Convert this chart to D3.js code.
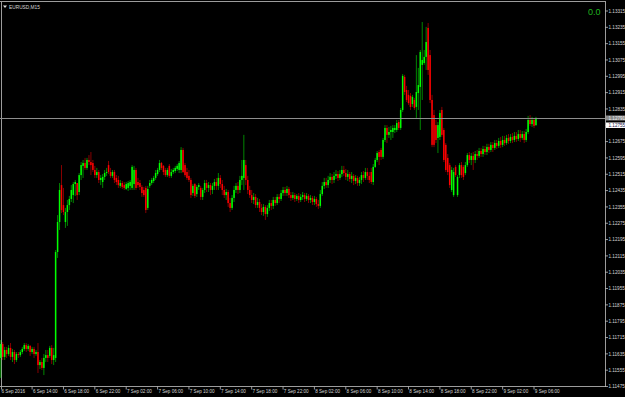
<!DOCTYPE html>
<html>
<head>
<meta charset="utf-8">
<script src="https://cdn.jsdelivr.net/npm/d3@7"></script>
<style>
  html, body { margin: 0; padding: 0; background: #000; }
  svg { display: block; }
</style>
</head>
<body>
<svg id="chart" width="625" height="397"></svg>
<script>
const symbol = 'EURUSD,M15';
const spread = '0.0';
// first M15 bar on the chart, bars follow every 15 minutes
const firstBar = '2016-09-06T10:00';

const open = [
  1.11615,1.11683,1.11620,1.11654,1.11634,1.11664,1.11620,1.11644,1.11605,1.11634,
  1.11629,1.11644,1.11659,1.11678,1.11659,1.11674,1.11644,1.11659,1.11634,1.11644,
  1.11580,1.11595,1.11566,1.11615,1.11629,1.11625,1.11664,1.11605,1.11615,1.12134,
  1.12281,1.12462,1.12364,1.12281,1.12330,1.12364,1.12394,1.12413,1.12467,1.12472,
  1.12428,1.12511,1.12556,1.12570,1.12546,1.12585,1.12575,1.12570,1.12536,1.12511,
  1.12526,1.12487,1.12477,1.12502,1.12521,1.12560,1.12526,1.12507,1.12526,1.12497,
  1.12487,1.12458,1.12472,1.12462,1.12443,1.12448,1.12458,1.12448,1.12467,1.12536,
  1.12477,1.12472,1.12453,1.12438,1.12448,1.12350,1.12458,1.12472,1.12482,1.12497,
  1.12516,1.12536,1.12570,1.12556,1.12536,1.12511,1.12556,1.12507,1.12526,1.12531,
  1.12541,1.12536,1.12536,1.12634,1.12560,1.12526,1.12507,1.12487,1.12423,1.12467,
  1.12418,1.12453,1.12448,1.12404,1.12438,1.12472,1.12448,1.12462,1.12438,1.12458,
  1.12477,1.12458,1.12497,1.12467,1.12438,1.12413,1.12428,1.12374,1.12350,1.12399,
  1.12438,1.12458,1.12438,1.12487,1.12497,1.12560,1.12487,1.12438,1.12413,1.12389,
  1.12404,1.12364,1.12379,1.12350,1.12330,1.12355,1.12320,1.12350,1.12374,1.12360,
  1.12389,1.12374,1.12404,1.12394,1.12423,1.12438,1.12423,1.12443,1.12413,1.12399,
  1.12413,1.12394,1.12409,1.12389,1.12404,1.12413,1.12394,1.12409,1.12389,1.12399,
  1.12379,1.12394,1.12369,1.12360,1.12418,1.12458,1.12477,1.12462,1.12487,1.12502,
  1.12487,1.12507,1.12516,1.12497,1.12516,1.12536,1.12521,1.12502,1.12516,1.12492,
  1.12507,1.12482,1.12497,1.12472,1.12487,1.12511,1.12497,1.12526,1.12507,1.12526,
  1.12477,1.12551,1.12585,1.12624,1.12634,1.12600,1.12683,1.12742,1.12708,1.12722,
  1.12722,1.12732,1.12732,1.12771,1.12742,1.12830,1.12992,1.12928,1.12904,1.12899,
  1.12859,1.12879,1.12845,1.12913,1.12943,1.13051,1.13060,1.13090,1.13232,1.13099,
  1.12879,1.12805,1.12756,1.12693,1.12698,1.12830,1.12732,1.12659,1.12595,1.12560,
  1.12438,1.12413,1.12551,1.12413,1.12511,1.12560,1.12551,1.12521,1.12560,1.12609,
  1.12585,1.12605,1.12585,1.12614,1.12605,1.12629,1.12614,1.12639,1.12624,1.12649,
  1.12634,1.12659,1.12644,1.12668,1.12654,1.12678,1.12659,1.12683,1.12668,1.12693,
  1.12678,1.12698,1.12683,1.12703,1.12688,1.12712,1.12693,1.12712,1.12683,1.12722,
  1.12781,1.12761,1.12781,1.12756
];
const high = [
  1.11703,1.11693,1.11669,1.11669,1.11678,1.11688,1.11659,1.11654,1.11644,1.11644,
  1.11654,1.11669,1.11688,1.11688,1.11683,1.11678,1.11669,1.11669,1.11654,1.11688,
  1.11605,1.11615,1.11634,1.11654,1.11654,1.11674,1.11678,1.11664,1.12144,1.12315,
  1.12472,1.12560,1.12448,1.12350,1.12389,1.12409,1.12462,1.12477,1.12487,1.12472,
  1.12521,1.12575,1.12585,1.12595,1.12595,1.12609,1.12624,1.12585,1.12556,1.12546,
  1.12536,1.12511,1.12516,1.12536,1.12546,1.12580,1.12546,1.12536,1.12536,1.12511,
  1.12507,1.12487,1.12482,1.12477,1.12477,1.12482,1.12487,1.12560,1.12556,1.12546,
  1.12497,1.12487,1.12462,1.12453,1.12458,1.12458,1.12487,1.12497,1.12507,1.12536,
  1.12546,1.12585,1.12575,1.12560,1.12546,1.12546,1.12565,1.12541,1.12546,1.12556,
  1.12565,1.12580,1.12648,1.12644,1.12570,1.12546,1.12536,1.12497,1.12467,1.12472,
  1.12462,1.12472,1.12458,1.12448,1.12487,1.12487,1.12477,1.12472,1.12472,1.12492,
  1.12497,1.12521,1.12511,1.12487,1.12458,1.12443,1.12438,1.12399,1.12413,1.12458,
  1.12472,1.12477,1.12507,1.12585,1.12708,1.12585,1.12507,1.12458,1.12438,1.12423,
  1.12418,1.12399,1.12394,1.12369,1.12369,1.12364,1.12364,1.12389,1.12389,1.12404,
  1.12404,1.12418,1.12418,1.12438,1.12453,1.12453,1.12458,1.12453,1.12428,1.12428,
  1.12423,1.12418,1.12423,1.12418,1.12428,1.12423,1.12423,1.12418,1.12413,1.12409,
  1.12409,1.12404,1.12389,1.12438,1.12477,1.12497,1.12497,1.12507,1.12521,1.12516,
  1.12526,1.12536,1.12531,1.12536,1.12556,1.12556,1.12541,1.12536,1.12526,1.12526,
  1.12516,1.12511,1.12507,1.12502,1.12526,1.12531,1.12546,1.12546,1.12526,1.12546,
  1.12565,1.12595,1.12629,1.12634,1.12644,1.12693,1.12756,1.12756,1.12747,1.12752,
  1.12756,1.12756,1.12781,1.12781,1.12840,1.13006,1.13002,1.12948,1.12928,1.12913,
  1.12904,1.12889,1.13099,1.13036,1.13124,1.13261,1.13124,1.13237,1.13256,1.13124,
  1.12904,1.12830,1.12781,1.12771,1.12830,1.12845,1.12742,1.12668,1.12614,1.12570,
  1.12551,1.12546,1.12560,1.12511,1.12570,1.12575,1.12560,1.12575,1.12619,1.12624,
  1.12619,1.12624,1.12629,1.12634,1.12644,1.12644,1.12654,1.12654,1.12664,1.12664,
  1.12673,1.12673,1.12683,1.12683,1.12693,1.12698,1.12703,1.12703,1.12708,1.12712,
  1.12712,1.12717,1.12722,1.12722,1.12732,1.12732,1.12727,1.12727,1.12737,1.12801,
  1.12805,1.12796,1.12791,1.12796
];
const low = [
  1.11517,1.11605,1.11605,1.11615,1.11625,1.11605,1.11595,1.11585,1.11595,1.11615,
  1.11620,1.11634,1.11649,1.11644,1.11649,1.11625,1.11634,1.11615,1.11625,1.11541,
  1.11561,1.11556,1.11531,1.11595,1.11595,1.11615,1.11585,1.11580,1.11595,1.12105,
  1.12242,1.12325,1.12315,1.12252,1.12262,1.12340,1.12379,1.12374,1.12409,1.12389,
  1.12413,1.12487,1.12497,1.12536,1.12536,1.12560,1.12511,1.12526,1.12497,1.12497,
  1.12472,1.12462,1.12448,1.12487,1.12507,1.12516,1.12497,1.12497,1.12472,1.12462,
  1.12448,1.12448,1.12443,1.12438,1.12438,1.12433,1.12438,1.12438,1.12438,1.12438,
  1.12448,1.12438,1.12404,1.12404,1.12325,1.12340,1.12448,1.12462,1.12472,1.12487,
  1.12507,1.12526,1.12536,1.12511,1.12502,1.12502,1.12497,1.12497,1.12516,1.12521,
  1.12531,1.12521,1.12521,1.12521,1.12502,1.12487,1.12477,1.12399,1.12409,1.12399,
  1.12404,1.12438,1.12389,1.12389,1.12423,1.12428,1.12428,1.12413,1.12418,1.12438,
  1.12438,1.12438,1.12448,1.12413,1.12399,1.12389,1.12355,1.12330,1.12340,1.12379,
  1.12423,1.12418,1.12423,1.12462,1.12438,1.12462,1.12418,1.12399,1.12374,1.12369,
  1.12350,1.12350,1.12330,1.12315,1.12311,1.12291,1.12306,1.12335,1.12340,1.12345,
  1.12360,1.12364,1.12374,1.12384,1.12409,1.12409,1.12409,1.12399,1.12384,1.12389,
  1.12379,1.12384,1.12374,1.12379,1.12389,1.12379,1.12384,1.12374,1.12374,1.12364,
  1.12364,1.12355,1.12345,1.12350,1.12409,1.12443,1.12448,1.12448,1.12472,1.12467,
  1.12472,1.12492,1.12482,1.12487,1.12502,1.12507,1.12487,1.12482,1.12477,1.12472,
  1.12462,1.12467,1.12458,1.12458,1.12467,1.12477,1.12487,1.12487,1.12472,1.12467,
  1.12462,1.12546,1.12575,1.12560,1.12585,1.12590,1.12673,1.12668,1.12693,1.12683,
  1.12693,1.12717,1.12722,1.12732,1.12732,1.12820,1.12904,1.12869,1.12855,1.12830,
  1.12845,1.12830,1.12791,1.12830,1.12732,1.12879,1.13051,1.13026,1.13002,1.12864,
  1.12648,1.12648,1.12668,1.12619,1.12683,1.12698,1.12575,1.12526,1.12511,1.12448,
  1.12428,1.12404,1.12502,1.12404,1.12497,1.12497,1.12487,1.12511,1.12551,1.12570,
  1.12560,1.12536,1.12570,1.12585,1.12595,1.12600,1.12600,1.12609,1.12609,1.12619,
  1.12624,1.12624,1.12634,1.12639,1.12644,1.12644,1.12648,1.12654,1.12659,1.12664,
  1.12668,1.12668,1.12673,1.12673,1.12678,1.12673,1.12683,1.12668,1.12673,1.12712,
  1.12752,1.12747,1.12742,1.12752
];
const close = [
  1.11683,1.11620,1.11654,1.11634,1.11664,1.11620,1.11644,1.11605,1.11634,1.11629,
  1.11644,1.11659,1.11678,1.11659,1.11674,1.11644,1.11659,1.11634,1.11644,1.11580,
  1.11595,1.11566,1.11615,1.11629,1.11615,1.11664,1.11605,1.11629,1.12134,1.12281,
  1.12438,1.12340,1.12330,1.12330,1.12364,1.12394,1.12438,1.12467,1.12477,1.12413,
  1.12511,1.12560,1.12570,1.12546,1.12585,1.12575,1.12560,1.12536,1.12511,1.12526,
  1.12487,1.12497,1.12502,1.12521,1.12526,1.12526,1.12507,1.12526,1.12487,1.12477,
  1.12462,1.12472,1.12453,1.12448,1.12467,1.12472,1.12477,1.12551,1.12536,1.12448,
  1.12462,1.12453,1.12423,1.12413,1.12340,1.12443,1.12472,1.12487,1.12497,1.12521,
  1.12536,1.12570,1.12546,1.12526,1.12511,1.12536,1.12507,1.12526,1.12536,1.12546,
  1.12556,1.12570,1.12634,1.12526,1.12511,1.12497,1.12487,1.12413,1.12458,1.12409,
  1.12453,1.12462,1.12404,1.12438,1.12472,1.12448,1.12462,1.12438,1.12458,1.12477,
  1.12458,1.12497,1.12467,1.12438,1.12413,1.12428,1.12374,1.12350,1.12399,1.12438,
  1.12458,1.12438,1.12487,1.12507,1.12585,1.12487,1.12438,1.12413,1.12389,1.12404,
  1.12364,1.12379,1.12350,1.12330,1.12355,1.12320,1.12350,1.12374,1.12360,1.12389,
  1.12374,1.12404,1.12394,1.12423,1.12438,1.12423,1.12443,1.12413,1.12399,1.12413,
  1.12394,1.12409,1.12389,1.12404,1.12413,1.12394,1.12409,1.12389,1.12399,1.12379,
  1.12394,1.12369,1.12360,1.12418,1.12458,1.12477,1.12462,1.12487,1.12502,1.12487,
  1.12507,1.12516,1.12497,1.12516,1.12536,1.12521,1.12502,1.12516,1.12492,1.12507,
  1.12482,1.12497,1.12472,1.12487,1.12511,1.12497,1.12526,1.12507,1.12487,1.12477,
  1.12551,1.12585,1.12619,1.12600,1.12600,1.12683,1.12742,1.12708,1.12722,1.12732,
  1.12742,1.12742,1.12766,1.12742,1.12830,1.12997,1.12918,1.12879,1.12864,1.12845,
  1.12894,1.12840,1.12918,1.12952,1.13114,1.13075,1.13090,1.13163,1.13026,1.12879,
  1.12659,1.12659,1.12683,1.12756,1.12815,1.12708,1.12585,1.12536,1.12526,1.12462,
  1.12536,1.12526,1.12511,1.12502,1.12560,1.12511,1.12502,1.12560,1.12609,1.12585,
  1.12605,1.12585,1.12614,1.12605,1.12629,1.12614,1.12639,1.12624,1.12649,1.12634,
  1.12659,1.12644,1.12668,1.12654,1.12678,1.12659,1.12683,1.12668,1.12693,1.12678,
  1.12698,1.12683,1.12703,1.12688,1.12712,1.12693,1.12712,1.12683,1.12722,1.12781,
  1.12761,1.12781,1.12752,1.12791
];

const priceTicks = [
  1.13315,1.13235,1.13155,1.13075,1.12995,1.12915,1.12835,1.12755,
  1.12675,1.12595,1.12515,1.12435,1.12355,1.12275,1.12195,1.12115,
  1.12035,1.11955,1.11875,1.11795,1.11715,1.11635,1.11555,1.11475
];
const timeTicks = [
  '2016-09-06T10:00','2016-09-06T14:00','2016-09-06T18:00','2016-09-06T22:00',
  '2016-09-07T02:00','2016-09-07T06:00','2016-09-07T10:00','2016-09-07T14:00',
  '2016-09-07T18:00','2016-09-07T22:00','2016-09-08T02:00','2016-09-08T06:00',
  '2016-09-08T10:00','2016-09-08T14:00','2016-09-08T18:00','2016-09-08T22:00',
  '2016-09-09T02:00','2016-09-09T06:00'
];

const W = 625, H = 397;
const plotRight = 605, plotBottom = 386.5;
const font = 'Liberation Sans, Arial, sans-serif';
const parse = d3.timeParse('%Y-%m-%dT%H:%M');
const fmtFirst = d3.timeFormat('%-d %b %Y');
const fmtTick = d3.timeFormat('%-d %b %H:%M');

const svg = d3.select('#chart');
svg.append('rect').attr('width', W).attr('height', H).attr('fill', '#000');

const x = d3.scaleTime()
  .domain([parse('2016-09-06T14:00'), parse('2016-09-09T06:00')])
  .range([32.1, 534]);
const y = d3.scaleLinear()
  .domain([1.11475, 1.13315])
  .range([plotBottom, 11]);

const t0 = parse(firstBar);
const bars = close.map((c, i) => ({
  t: d3.timeMinute.offset(t0, 15 * i),
  o: open[i], h: high[i], l: low[i], c: c
}));

// frame
const frame = svg.append('g').attr('stroke', '#9c9c9c').attr('stroke-width', 1);
frame.append('line').attr('x1', 0).attr('x2', plotRight).attr('y1', 1.5).attr('y2', 1.5);
frame.append('line').attr('x1', 1.5).attr('x2', 1.5).attr('y1', 1).attr('y2', plotBottom);
frame.append('line').attr('x1', plotRight + 0.5).attr('x2', plotRight + 0.5).attr('y1', 1).attr('y2', plotBottom);
frame.append('line').attr('x1', 0).attr('x2', plotRight + 1).attr('y1', plotBottom).attr('y2', plotBottom);

// candles
const up = '#00ff00', down = '#ff0000';
const cg = svg.append('g');
const candle = cg.selectAll('g').data(bars).enter().append('g');
candle.append('line')
  .attr('x1', d => x(d.t)).attr('x2', d => x(d.t))
  .attr('y1', d => y(Math.max(d.h, d.o, d.c)))
  .attr('y2', d => y(Math.min(d.l, d.o, d.c)))
  .attr('stroke', d => d.c >= d.o ? up : down)
  .attr('stroke-width', 0.7)
  .attr('stroke-opacity', 0.75);
candle.append('rect')
  .attr('x', d => x(d.t) - 0.75)
  .attr('width', 1.5)
  .attr('y', d => y(Math.max(d.o, d.c)))
  .attr('height', d => Math.max(1, Math.abs(y(d.o) - y(d.c))))
  .attr('fill', d => d.c >= d.o ? up : down);

// bid line
const last = close[close.length - 1];
const by = Math.round(y(last));
svg.append('line')
  .attr('x1', 0).attr('x2', plotRight)
  .attr('y1', by + 0.5).attr('y2', by + 0.5)
  .attr('stroke', '#8e8e8e').attr('stroke-width', 1);

// price axis
const pa = svg.append('g').attr('font-family', font).attr('font-size', 4.6);
pa.selectAll('line').data(priceTicks).enter().append('line')
  .attr('x1', plotRight).attr('x2', plotRight + 3)
  .attr('y1', d => y(d)).attr('y2', d => y(d))
  .attr('stroke', '#bdbdbd').attr('stroke-width', 0.8);
pa.selectAll('text').data(priceTicks.filter(d => d !== 1.12755)).enter().append('text')
  .attr('x', plotRight + 3.5).attr('y', d => y(d) + 1.7)
  .attr('fill', '#d6d6d6')
  .text(d => d.toFixed(5));

// bid price label and the white marker label under it
pa.append('rect').attr('x', plotRight + 1).attr('y', by - 2.5).attr('width', 19).attr('height', 5).attr('fill', '#8a8a8a');
pa.append('text').attr('x', plotRight + 3.5).attr('y', by + 1.7).attr('fill', '#f0f0f0').text(last.toFixed(5));
const wy = y(1.12755);
pa.append('rect').attr('x', plotRight + 1).attr('y', wy - 2.8).attr('width', 19).attr('height', 5.5).attr('fill', '#ffffff');
pa.append('text').attr('x', plotRight + 3.5).attr('y', wy + 1.7).attr('fill', '#1a1a50').text('1.12755');

// time axis
const ta = svg.append('g').attr('font-family', font).attr('font-size', 4.6);
const tt = timeTicks.map(parse);
ta.selectAll('line').data(tt).enter().append('line')
  .attr('x1', d => Math.max(1.5, x(d))).attr('x2', d => Math.max(1.5, x(d)))
  .attr('y1', plotBottom).attr('y2', plotBottom + 3)
  .attr('stroke', '#bdbdbd').attr('stroke-width', 0.8);
ta.selectAll('text').data(tt).enter().append('text')
  .attr('x', (d, i) => i === 0 ? 1.5 : x(d) + 0.8)
  .attr('y', 393)
  .attr('fill', '#d6d6d6')
  .text((d, i) => i === 0 ? fmtFirst(d) : fmtTick(d));

// header
svg.append('path').attr('d', 'M3,5.5 L7,5.5 L5,8 Z').attr('fill', '#dcdcdc');
svg.append('text').attr('x', 9).attr('y', 8.5)
  .attr('font-family', font).attr('font-size', 4.8)
  .attr('fill', '#d6d6d6').text(symbol);
svg.append('text').attr('x', 588).attr('y', 14.5)
  .attr('font-family', font).attr('font-size', 9)
  .attr('fill', '#1fb41f').text(spread);
</script>
</body>
</html>
